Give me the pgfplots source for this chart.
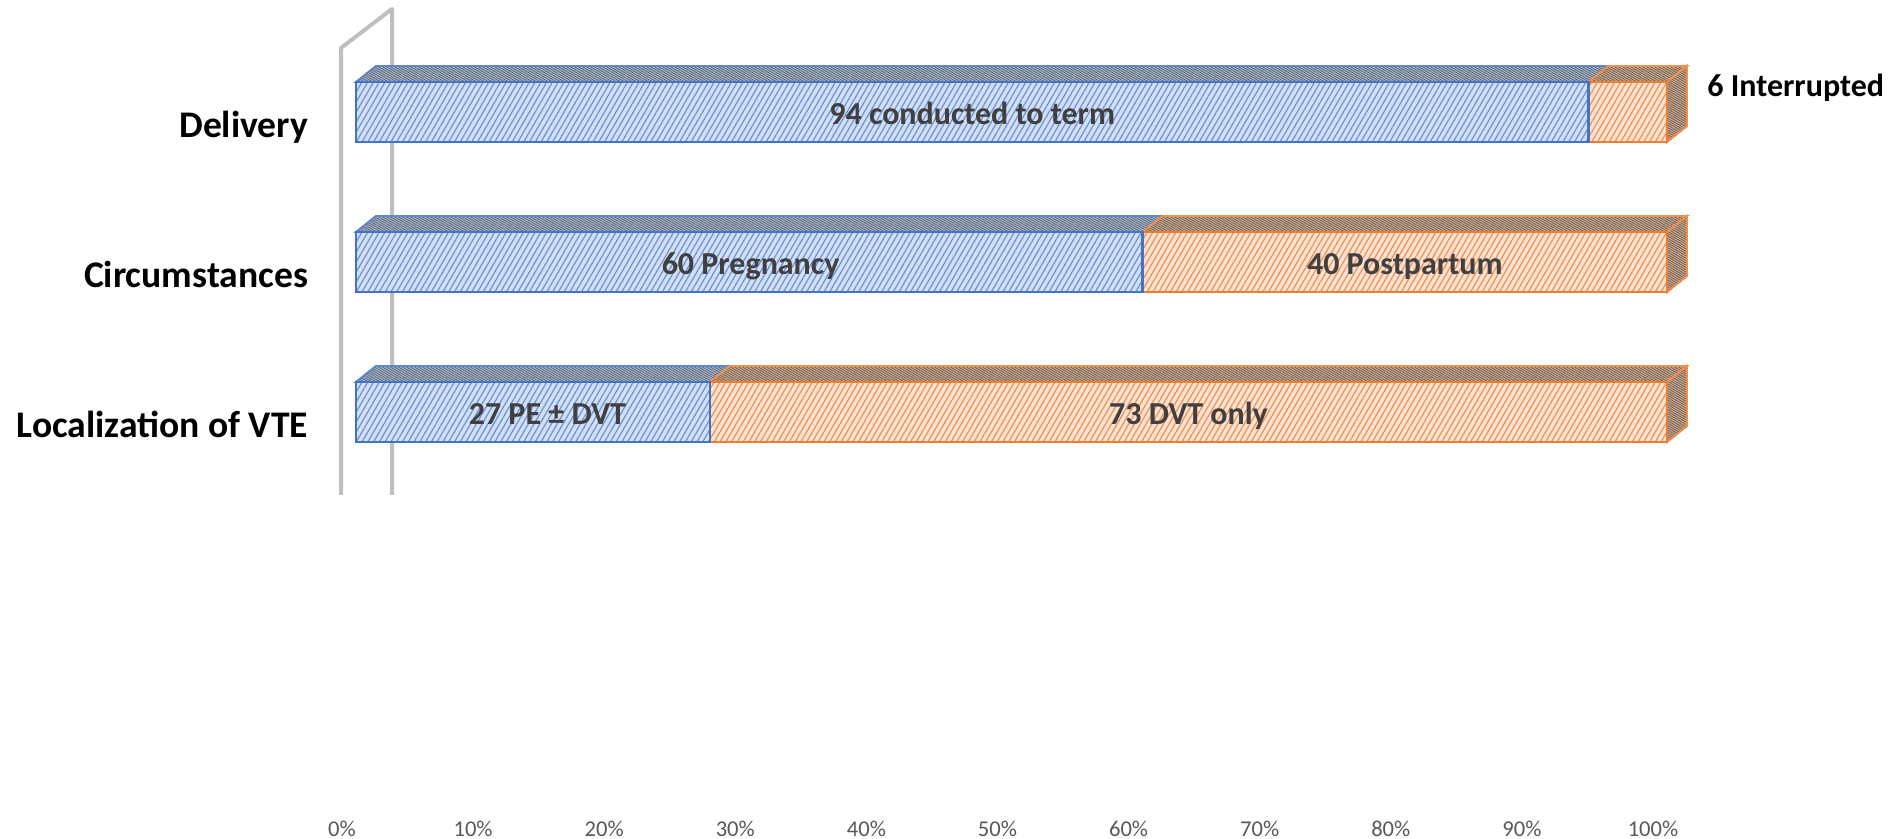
\documentclass[border=0pt]{standalone}
\usepackage{fontspec}
\setmainfont{Carlito}
\usepackage{pgfplots}
\pgfplotsset{compat=1.18}
\usetikzlibrary{patterns.meta}
\definecolor{cblue}{HTML}{4472C4}
\definecolor{corange}{HTML}{ED7D31}
\definecolor{lblue}{HTML}{D3DFF4}
\definecolor{lorange}{HTML}{FBE2D3}
\definecolor{hblue}{HTML}{6A90D9}
\definecolor{horange}{HTML}{F09050}
\definecolor{tblue}{HTML}{A4B2C8}
\definecolor{torange}{HTML}{C4A994}
\definecolor{dhatch}{HTML}{5A6470}
\definecolor{ohatch}{HTML}{6F5A48}
\tikzset{
  frontblue/.style={draw=cblue,line width=1.3pt,fill=lblue,
    postaction={pattern={Lines[angle=60,distance=2.5pt,line width=0.6pt]},pattern color=hblue}},
  frontorange/.style={draw=corange,line width=1.3pt,fill=lorange,
    postaction={pattern={Lines[angle=60,distance=2.5pt,line width=0.6pt]},pattern color=horange}},
  topblue/.style={draw=cblue!85,line width=0.9pt,fill=tblue,
    postaction={pattern={Lines[angle=-30,distance=1pt,line width=0.35pt]},pattern color=dhatch}},
  toporange/.style={draw=corange!85,line width=0.9pt,fill=torange,
    postaction={pattern={Lines[angle=-30,distance=1pt,line width=0.35pt]},pattern color=ohatch}},
  barlabel/.style={font=\fontsize{16pt}{19pt}\selectfont\bfseries,text=black!75,text height=0.64em,text depth=0pt},
}
\pgfplotsset{common/.style={
  at={(178pt,19.5pt)},anchor=south west,scale only axis,
  width=655.5pt,height=395.5pt,
  xmin=0,xmax=100,ymin=-2.5867,ymax=2.6867,
  axis line style={draw=none},major tick length=0pt,clip=false,
}}
\begin{document}
\begin{tikzpicture}
\path[use as bounding box] (0,0) rectangle (944.5pt,419.5pt);
% wall and 3-D faces
\begin{axis}[common,xtick=\empty,ytick=\empty]
\addplot[draw=black!25,line width=2pt,line join=round] coordinates {(-1.144,-0.5533)(-1.144,2.4267)(2.746,2.6867)(2.746,-0.5533)};
% top faces, blue
\addplot[topblue] coordinates {(0,2.2)(94,2.2)(95.53,2.3067)(1.53,2.3067)} -- cycle;
\addplot[topblue] coordinates {(0,1.2)(60,1.2)(61.53,1.3067)(1.53,1.3067)} -- cycle;
\addplot[topblue] coordinates {(0,0.2)(27,0.2)(28.53,0.3067)(1.53,0.3067)} -- cycle;
% top faces, orange
\addplot[toporange] coordinates {(94,2.2)(100,2.2)(101.53,2.3067)(95.53,2.3067)} -- cycle;
\addplot[toporange] coordinates {(60,1.2)(100,1.2)(101.53,1.3067)(61.53,1.3067)} -- cycle;
\addplot[toporange] coordinates {(27,0.2)(100,0.2)(101.53,0.3067)(28.53,0.3067)} -- cycle;
% side faces
\addplot[toporange] coordinates {(100,2.2)(101.53,2.3067)(101.53,1.9067)(100,1.8)} -- cycle;
\addplot[toporange] coordinates {(100,1.2)(101.53,1.3067)(101.53,0.9067)(100,0.8)} -- cycle;
\addplot[toporange] coordinates {(100,0.2)(101.53,0.3067)(101.53,-0.0933)(100,-0.2)} -- cycle;
\end{axis}
% front faces, ticks, labels
\begin{axis}[common,xbar stacked,bar width=30pt,
  xtick={0,10,20,30,40,50,60,70,80,90,100},
  xticklabel={\pgfmathprintnumber{\tick}\%},
  /pgf/number format/assume math mode=true,
  xticklabel style={font=\fontsize{11.3pt}{13pt}\selectfont,text=black!65,xshift=-7pt,yshift=-7pt},
  ytick={0,1,2},
  yticklabels={Localization of VTE,Circumstances,Delivery},
  yticklabel style={font=\fontsize{18.8pt}{22pt}\selectfont\bfseries,text=black,text height=0.64em,text depth=0pt,yshift=-9.8pt,xshift=-20.4pt},
]
\addplot[frontblue] coordinates {(27,0)(60,1)(94,2)};
\addplot[frontorange] coordinates {(73,0)(40,1)(6,2)};
\end{axis}
% data labels
\begin{axis}[common,xtick=\empty,ytick=\empty]
\node[barlabel] at (axis cs:47,1.961) {94 conducted to term};
\node[barlabel] at (axis cs:30.1,0.961) {60 Pregnancy};
\node[barlabel] at (axis cs:80,0.961) {40 Postpartum};
\node[barlabel] at (axis cs:14.6,-0.039) {27 PE ± DVT};
\node[barlabel] at (axis cs:63.5,-0.039) {73 DVT only};
\node[barlabel,anchor=west,text=black,inner sep=0pt] at (axis cs:103.05,2.148) {6 Interrupted};
\end{axis}
\end{tikzpicture}
\end{document}
